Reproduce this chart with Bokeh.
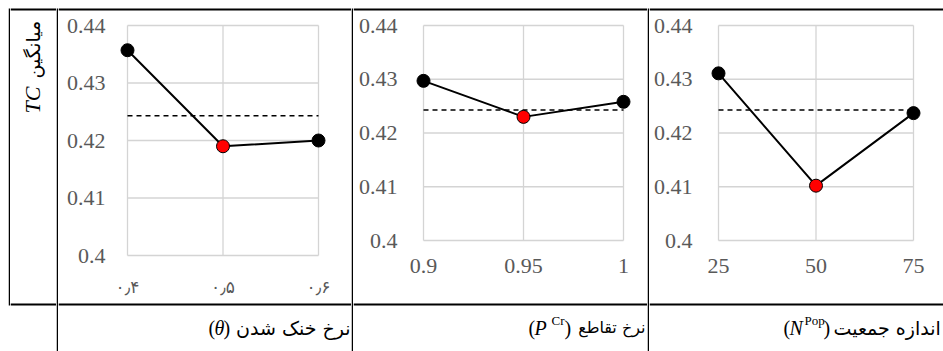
import math
from bokeh.plotting import figure
from bokeh.layouts import row
from bokeh.models import Range1d, FixedTicker
from bokeh.core.properties import value
from bokeh.embed import file_html
from bokeh.resources import INLINE

# ---------------- data ----------------
theta_levels = [0.4, 0.5, 0.6]
theta_labels = ["۰٫۴", "۰٫۵", "۰٫۶"]
tc_theta = [0.4357, 0.4190, 0.4200]

pcr_levels = [0.9, 0.95, 1.0]
pcr_labels = ["0.9", "0.95", "1"]
tc_pcr = [0.4297, 0.4230, 0.4258]

npop_levels = [25, 50, 75]
npop_labels = ["25", "50", "75"]
tc_npop = [0.4311, 0.4102, 0.4237]

overall_mean = 0.4243
y_ticks = [0.40, 0.41, 0.42, 0.43, 0.44]
y_tick_labels = ["0.4", "0.41", "0.42", "0.43", "0.44"]

y_title_latin = "TC"
y_title_fa = "میانگین"
x_title_fa = ["نرخ خنک شدن", "نرخ تقاطع", "اندازه جمعیت"]

SERIF = "Liberation Serif"
FA = "DejaVu Sans"
GRID = "#d4d4d4"
TICK = "#595959"
H = 351            # every column spans the whole window height
TOP = (8, 10)      # top table border (page y)
MID = (303, 305)   # border between the two table rows
BL, SUP = 327, 320 # baselines of bottom-row texts


def base_fig(w, color="white", xr=None, yr=None):
    f = figure(width=w, height=H, toolbar_location=None, output_backend="svg",
               title=None, min_border=0, x_axis_location=None, y_axis_location=None,
               outline_line_color=None, background_fill_color=color,
               border_fill_color=color,
               x_range=xr if xr is not None else Range1d(0, w),
               y_range=yr if yr is not None else Range1d(H, 0))
    f.grid.visible = False
    return f


def put(f, x, y, t, font, size, style="normal", align="left", angle=0):
    f.text(x=[x], y=[y], text=[t], text_font=value(font), text_font_size=value(size),
           text_font_style=style, text_align=align, text_baseline="alphabetic",
           angle=angle, text_color="black")


def panel_col(levels, labels, vals, W, gx0, gx1, gy0, gy1, xfont, xsize, xstand,
              ystand, texts):
    """gx0/gx1: pixel x of first/last level, gy0/gy1: pixel y of 0.44 / 0.40."""
    x0, x1 = levels[0], levels[-1]
    y0, y1 = y_ticks[0], y_ticks[-1]
    xpp = (x1 - x0) / (gx1 - gx0)
    ypp = (y1 - y0) / (gy1 - gy0)

    def X(px):
        return x0 + (px - gx0) * xpp

    def Y(py):
        return y1 - (py - gy0) * ypp

    p = figure(width=W, height=H, toolbar_location=None, output_backend="svg",
               title=None, min_border=0,
               x_range=Range1d(X(0), X(W)), y_range=Range1d(Y(H), Y(0)),
               outline_line_color=None, background_fill_color="white",
               border_fill_color="white")
    p.grid.visible = False
    # table borders
    for a, b in (TOP, MID):
        p.quad(left=[X(0)], right=[X(W)], top=[Y(a)], bottom=[Y(b)],
               fill_color="black", line_color=None)
    n, m = len(levels), len(y_ticks)
    p.segment(x0=levels, y0=[y0] * n, x1=levels, y1=[y1] * n,
              line_color=GRID, line_width=1.3)
    p.segment(x0=[x0] * m, y0=y_ticks, x1=[x1] * m, y1=y_ticks,
              line_color=GRID, line_width=1.3)
    p.line([x0, x1], [overall_mean, overall_mean], line_color="black",
           line_width=1.5, line_dash="5 4")
    p.line(levels, vals, line_color="black", line_width=2)
    vmin = min(vals)
    fills = ["#ff0000" if v == vmin else "black" for v in vals]
    p.scatter(levels, vals, size=13, fill_color=fills, line_color="black", line_width=1)

    xa = p.xaxis[0]
    xa.fixed_location = y0
    xa.ticker = FixedTicker(ticks=levels)
    xa.major_label_overrides = {lv: lb for lv, lb in zip(levels, labels)}
    xa.major_label_text_font = xfont
    xa.major_label_text_font_size = xsize
    xa.major_label_text_color = TICK
    xa.major_label_standoff = xstand
    ya = p.yaxis[0]
    ya.fixed_location = x0
    ya.ticker = FixedTicker(ticks=y_ticks)
    ya.major_label_overrides = {lv: lb for lv, lb in zip(y_ticks, y_tick_labels)}
    ya.major_label_text_font = SERIF
    ya.major_label_text_font_size = "22px"
    ya.major_label_text_color = TICK
    ya.major_label_standoff = ystand
    for ax in (xa, ya):
        ax.axis_line_color = None
        ax.major_tick_line_color = None
        ax.minor_tick_line_color = None

    # bottom-row title texts: (pixel x, pixel y, text, font, size, style, align)
    for (px, py, t, font, size, style, align) in texts:
        put(p, X(px), Y(py), t, font, size, style=style, align=align)
    return p


# column 1: theta  (figure spans page x 58..351)
p1 = panel_col(theta_levels, theta_labels, tc_theta, 293, 69, 260, 17 + 8, 247 + 8,
               FA, "17px", 15, 16,
               [(150, BL, "(", SERIF, "20px", "normal", "left"),
                (156, BL, "θ", SERIF, "20px", "italic", "left"),
                (165, BL, ")", SERIF, "20px", "normal", "left"),
                (292, BL, x_title_fa[0], FA, "19px", "normal", "right")])
# column 2: crossover rate (page x 353..647)
p2 = panel_col(pcr_levels, pcr_labels, tc_pcr, 294, 70, 270, 17 + 8, 232 + 8,
               SERIF, "22px", 12, 20,
               [(175, BL, "(", SERIF, "20px", "normal", "left"),
                (181, BL, "P", SERIF, "20px", "italic", "left"),
                (198, SUP, "Cr", SERIF, "13px", "normal", "left"),
                (211, BL, ")", SERIF, "20px", "normal", "left"),
                (292, BL, x_title_fa[1], FA, "16px", "normal", "right")])
# column 3: population size (page x 649..943)
p3 = panel_col(npop_levels, npop_labels, tc_npop, 294, 69, 264, 17 + 8, 232 + 8,
               SERIF, "22px", 12, 20,
               [(134, BL, "(", SERIF, "20px", "normal", "left"),
                (140, BL, "N", SERIF, "20px", "italic", "left"),
                (155, SUP, "Pop", SERIF, "13px", "normal", "left"),
                (174, BL, ")", SERIF, "20px", "normal", "left"),
                (184, BL, x_title_fa[2], FA, "19px", "normal", "left")])

# y title column (page x 10..56)
ycell = base_fig(46)
for a, b in (TOP, MID):
    ycell.quad(left=[0], right=[46], top=[a], bottom=[b], fill_color="black", line_color=None)
put(ycell, 22, 113, y_title_latin, SERIF, "22px", style="italic", angle=math.pi / 2)
put(ycell, 22, 78, y_title_fa, FA, "19px", angle=math.pi / 2)

# left border (top row only), separators, page margin
left_border = base_fig(2)
left_border.quad(left=[0], right=[2], top=[TOP[0]], bottom=[MID[1]],
                 fill_color="black", line_color=None)


def sep():
    f = base_fig(2)
    f.quad(left=[0], right=[2], top=[TOP[0]], bottom=[H], fill_color="black", line_color=None)
    return f


margin = base_fig(8)

layout = row(margin, left_border, ycell, sep(), p1, sep(), p2, sep(), p3, spacing=0)

open("out.html", "w").write(file_html(layout, INLINE))
